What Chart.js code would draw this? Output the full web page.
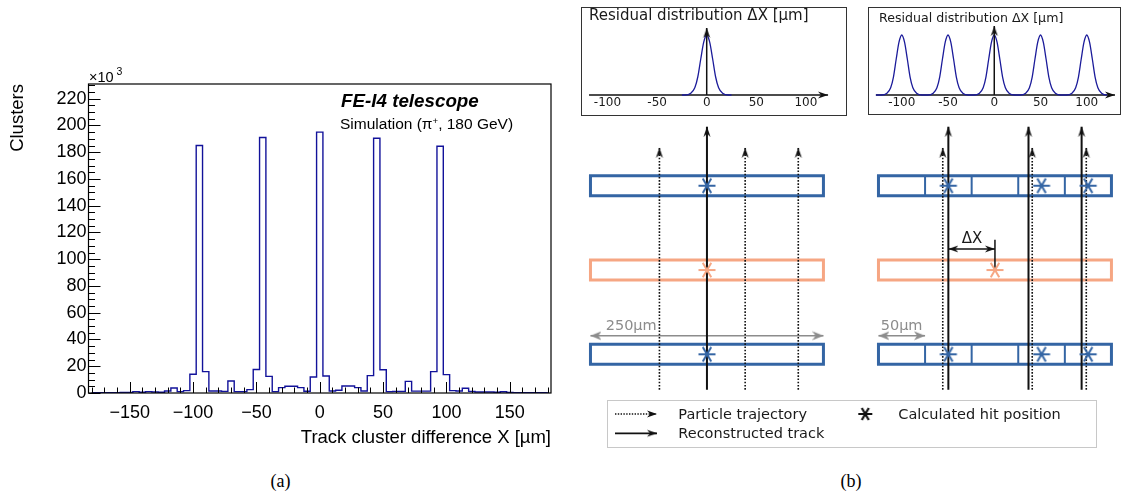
<!DOCTYPE html>
<html>
<head>
<meta charset="utf-8">
<script src="https://cdn.jsdelivr.net/npm/chart.js@4.4.1/dist/chart.umd.min.js"></script>
<style>
  html, body { margin: 0; padding: 0; background: #fff; }
  body { position: relative; width: 1123px; height: 496px; overflow: hidden; }
  canvas, .t, .frame { position: absolute; }
  .t { line-height: 1; white-space: nowrap; }
  .root { font-family: 'Liberation Sans', Arial, sans-serif; color: #000; }
  .dv { font-family: 'DejaVu Sans', sans-serif; color: #1a1a1a; }
  .cap { font-family: 'Liberation Serif', 'Times New Roman', serif; font-size: 18px; width: 40px; text-align: center; color: #000; }
  .frame { box-sizing: border-box; }
  sup { font-size: 0.62em; vertical-align: 0.5em; line-height: 0; }
</style>
</head>
<body>
<!-- (a) -->
<canvas id="hist" width="571" height="460" style="left:0;top:0"></canvas>
<div class="t root" style="left:89px;top:70.4px;font-size:14.5px">×10</div>
<div class="t root" style="left:116.5px;top:66px;font-size:10.5px">3</div>
<div class="t root" style="left:341px;top:91.5px;font-size:18.8px;font-weight:bold;font-style:italic">FE-I4 telescope</div>
<div class="t root" style="left:340px;top:116px;font-size:15.5px">Simulation (π<sup>+</sup>, 180 GeV)</div>
<div class="t cap" style="left:260.5px;top:472px">(a)</div>

<!-- (b) -->
<canvas id="insetL" width="266" height="109" style="left:581px;top:7px"></canvas>
<div class="frame" style="left:581px;top:7px;width:266px;height:109px;border:1.5px solid #333"></div>
<div class="t dv" style="left:589px;top:8.2px;font-size:15px">Residual distribution ΔX [µm]</div>

<canvas id="insetR" width="253" height="108" style="left:868px;top:7px"></canvas>
<div class="frame" style="left:868px;top:7px;width:253px;height:108px;border:1.5px solid #333"></div>
<div class="t dv" style="left:879px;top:11.8px;font-size:12.6px">Residual distribution ΔX [µm]</div>

<canvas id="sketchL" width="264" height="275" style="left:575px;top:120px"></canvas>
<canvas id="sketchR" width="264" height="275" style="left:863px;top:120px"></canvas>
<div class="t dv" style="left:605.7px;top:317.7px;font-size:14.5px;color:#8c8c8c">250µm</div>
<div class="t dv" style="left:880.7px;top:317.7px;font-size:14.5px;color:#8c8c8c">50µm</div>
<div class="t dv" style="left:961.7px;top:230.6px;font-size:15px">ΔX</div>

<div class="frame" style="left:607px;top:400px;width:490px;height:47.5px;border:1px solid #c8c8c8"></div>
<canvas id="legendKeys" width="490" height="47" style="left:607px;top:400px"></canvas>
<div class="t dv" style="left:678.3px;top:407px;font-size:14.5px">Particle trajectory</div>
<div class="t dv" style="left:678.3px;top:426px;font-size:14.5px">Reconstructed track</div>
<div class="t dv" style="left:898.3px;top:407px;font-size:14.5px">Calculated hit position</div>
<div class="t cap" style="left:831px;top:472px">(b)</div>

<script>
// ---------- (a) track cluster difference, 5 µm bins, clusters in 10^3
const binCenters = [
  -180, -175, -170, -165, -160, -155, -150, -145, -140, -135, -130, -125, -120,
  -115, -110, -105, -100, -95, -90, -85, -80, -75, -70, -65, -60, -55, -50,
  -45, -40, -35, -30, -25, -20, -15, -10, -5, 0, 5, 10, 15, 20, 25, 30,
  35, 40, 45, 50, 55, 60, 65, 70, 75, 80, 85, 90, 95, 100, 105, 110,
  115, 120, 125, 130, 135, 140, 145, 150, 155, 160, 165, 170, 175, 180
];
const clusters = [
  0.3, 0.3, 0.3, 0.3, 0.3, 0.4, 0.5, 1.0, 0.6, 1.0, 0.8, 0.6, 1.5,
  3.7, 1.0, 1.8, 14, 185, 16, 1.5, 1.5, 1.2, 9.0, 1.0, 1.0, 2.5, 17.6,
  191, 12.4, 1.0, 4.0, 5.0, 5.0, 4.0, 1.3, 12, 195, 12.7, 1.5, 2.0, 5.2, 5.2, 4.0,
  1.5, 13, 190.5, 17.4, 1.0, 1.2, 1.2, 8.7, 1.4, 1.4, 1.4, 16, 184.5, 13.7, 1.8, 1.5,
  3.5, 1.2, 0.8, 0.7, 0.8, 0.6, 0.9, 0.4, 0.3, 0.3, 0.3, 0.3, 0.3, 0.3
];
const histXTicks = [-150, -100, -50, 0, 50, 100, 150];
const histYTicks = [0, 20, 40, 60, 80, 100, 120, 140, 160, 180, 200, 220];

// ---------- (b) sketch, x in µm across the 250 µm wide sensors
const sensorEdges = [0, 250];
const finePixelEdges = [0, 50, 100, 150, 200, 250];
const planes = [0, 1, 2];            // lower telescope plane, DUT, upper telescope plane
const dutPlane = 1;
const trajectoriesL = [74, 166, 223];
const tracksL = [125];
const hitsL = [125];
const trajectoriesR = [69, 165, 223];
const tracksR = [75, 161, 218];
const hitsR = [75, 175, 225];
const dutHit = 125;
const pitchL = [0, 250];
const pitchR = [0, 50];

// residual sketches
const residualTicks = [-100, -50, 0, 50, 100];
const peakOffsets = [-22, -16, -12, -9, -6, -3, 0, 3, 6, 9, 12, 16, 22];
const peakShape = [0, 0.03, 0.12, 0.3, 0.6, 0.88, 1, 0.88, 0.6, 0.3, 0.12, 0.03, 0];
const peaksL = [0];
const peaksR = [-100, -50, 0, 50, 100];

const ROOT_FONT = "'Liberation Sans', Arial, sans-serif";
const DV_FONT = "'DejaVu Sans', sans-serif";
const HIST = '#12129a';
const NAVY = '#1b1b9a';
const BLUE = '#3465a4';
const ORANGE = '#f6a683';
const GREY = '#8c8c8c';
const INK = '#111';

// point style images
function head(color, len, half, notch) {
  const c = document.createElement('canvas');
  c.width = Math.ceil(half) * 2 + 2;
  c.height = Math.ceil(len) * 2;
  const g = c.getContext('2d');
  const cx = c.width / 2, tip = c.height / 2;
  g.fillStyle = color;
  g.beginPath();
  g.moveTo(cx, tip);
  g.lineTo(cx + half, tip + len);
  g.lineTo(cx, tip + len - notch);
  g.lineTo(cx - half, tip + len);
  g.closePath();
  g.fill();
  return c;
}
function star(color, r, w) {
  const c = document.createElement('canvas');
  c.width = c.height = Math.ceil(r) * 2 + 4;
  const g = c.getContext('2d');
  const m = c.width / 2;
  g.strokeStyle = color;
  g.lineWidth = w;
  g.beginPath();
  [0, 60, 120].forEach(a => {
    const dx = Math.cos(a * Math.PI / 180) * r, dy = Math.sin(a * Math.PI / 180) * r;
    g.moveTo(m - dx, m - dy);
    g.lineTo(m + dx, m + dy);
  });
  g.stroke();
  return c;
}
const headInk = head(INK, 10, 3.5, 3);
const headGrey = head(GREY, 11, 4.5, 3);
const starBlue = star(BLUE, 8.5, 2);
const starOrange = star(ORANGE, 8.5, 2);
const starInk = star(INK, 7, 2.2);

const minus = v => (v < 0 ? '\u2212' + Math.abs(v) : String(v));
const quiet = { legend: { display: false }, tooltip: { enabled: false } };

const rootAxes = {
  id: 'rootAxes',
  afterDatasetsDraw(chart) {
    const { ctx, chartArea: a, scales: { x, y } } = chart;
    ctx.save();
    ctx.strokeStyle = '#000';
    ctx.lineWidth = 1.2;
    ctx.strokeRect(a.left, a.top, a.right - a.left, a.bottom - a.top);
    ctx.lineWidth = 1;
    ctx.beginPath();
    for (let v = -180; v <= 180; v += 10) {
      const px = Math.round(x.getPixelForValue(v)) + 0.5;
      const len = v % 50 === 0 ? 11 : 5.5;
      ctx.moveTo(px, a.bottom);
      ctx.lineTo(px, a.bottom - len);
    }
    for (let v = 0; v <= 230; v += 5) {
      const py = Math.round(y.getPixelForValue(v)) + 0.5;
      const len = v % 20 === 0 ? 12 : 6.5;
      ctx.moveTo(a.left, py);
      ctx.lineTo(a.left + len, py);
    }
    ctx.stroke();
    ctx.restore();
  }
};

new Chart(document.getElementById('hist'), {
  type: 'line',
  data: {
    datasets: [{
      data: binCenters.map((x, i) => ({ x, y: clusters[i] })),
      stepped: 'middle',
      borderColor: HIST,
      borderWidth: 1.4,
      pointRadius: 0,
      fill: false
    }]
  },
  options: {
    responsive: false,
    animation: false,
    events: [],
    layout: { autoPadding: false, padding: { top: 84, right: 20, left: 0, bottom: 0 } },
    plugins: quiet,
    scales: {
      x: {
        type: 'linear',
        min: -182.5,
        max: 182.5,
        afterBuildTicks: s => { s.ticks = histXTicks.map(value => ({ value })); },
        afterFit: s => { s.height = 67; },
        grid: { display: false, drawTicks: false },
        border: { display: false },
        ticks: { autoSkip: false, maxRotation: 0, padding: 9, color: '#000', font: { family: ROOT_FONT, size: 18 }, callback: minus },
        title: { display: true, text: 'Track cluster difference X [µm]', align: 'end', color: '#000', font: { family: ROOT_FONT, size: 18.5 }, padding: { top: 0, bottom: 11 } }
      },
      y: {
        type: 'linear',
        min: 0,
        max: 231,
        afterBuildTicks: s => { s.ticks = histYTicks.map(value => ({ value })); },
        afterFit: s => { s.width = 88.5; },
        grid: { display: false, drawTicks: false },
        border: { display: false },
        ticks: { autoSkip: false, padding: 2, color: '#000', font: { family: ROOT_FONT, size: 18 } },
        title: { display: true, text: 'Clusters', align: 'end', color: '#000', font: { family: ROOT_FONT, size: 18.5 }, padding: { top: 6.4, bottom: 0 } }
      }
    }
  },
  plugins: [rootAxes]
});

// residual distribution insets
function residualInset(id, o) {
  const curve = [{ x: o.span[0], y: 0 }];
  o.centers.forEach(c => peakOffsets.forEach((d, i) => curve.push({ x: c + d, y: peakShape[i] })));
  curve.push({ x: o.span[1], y: 0 });
  new Chart(document.getElementById(id), {
    type: 'scatter',
    data: {
      datasets: [
        { data: [{ x: 0, y: 0 }, { x: 0, y: o.yTip }], showLine: true, borderColor: INK, borderWidth: 1.5, pointStyle: headInk, pointRadius: [0, 6], clip: false },
        { data: curve, showLine: true, borderColor: NAVY, borderWidth: 1.3, pointRadius: 0, cubicInterpolationMode: 'monotone', clip: false },
        { data: [{ x: o.axis[0], y: 0 }, { x: o.axis[1], y: 0 }], showLine: true, borderColor: INK, borderWidth: 1.5, pointStyle: headInk, pointRadius: [0, 6], pointRotation: 90, clip: false }
      ]
    },
    options: {
      responsive: false,
      animation: false,
      events: [],
      layout: { autoPadding: false, padding: 0 },
      plugins: quiet,
      scales: {
        x: {
          type: 'linear',
          min: o.x[0],
          max: o.x[1],
          afterBuildTicks: s => { s.ticks = residualTicks.map(value => ({ value })); },
          afterFit: s => { s.height = o.axisH; },
          grid: { display: false, drawTicks: false },
          border: { display: false },
          ticks: { autoSkip: false, maxRotation: 0, padding: 1, color: '#1a1a1a', font: { family: DV_FONT, size: 12 }, callback: v => String(v) }
        },
        y: { display: false, min: 0, max: o.yMax }
      }
    }
  });
}
residualInset('insetL', { centers: peaksL, span: [-25, 25], x: [-126.7, 141.4], axis: [-118.6, 122.3], yTip: 1.117, yMax: 1.467, axisH: 21 });
residualInset('insetR', { centers: peaksR, span: [-128, 121], x: [-136.5, 137], axis: [-127.9, 130.5], yTip: 1.15, yMax: 1.467, axisH: 20 });

// telescope sketches
const PLANE_HALF = 0.118, TRACK_BOTTOM = -0.42, TRACK_TOP = 2.70, TRAJ_TOP = 2.45;
const DIM_Y = 0.22, DX_Y = 1.25, DX_TOP = 1.36;

function sketch(id, o) {
  const ds = [];
  const seg = (pts, color, width, extra) => ds.push(Object.assign({
    data: pts, showLine: true, borderColor: color, borderWidth: width, pointRadius: 0, clip: false
  }, extra || {}));

  const hitPts = [];
  o.hits.forEach(x => [planes[0], planes[2]].forEach(p => hitPts.push({ x, y: p })));
  ds.push({ data: hitPts, pointStyle: starBlue, pointRadius: 8, showLine: false, clip: false });
  ds.push({ data: [{ x: dutHit, y: dutPlane }], pointStyle: starOrange, pointRadius: 8, showLine: false, clip: false });

  if (o.residual) {
    seg([{ x: o.tracks[0], y: DX_Y }, { x: dutHit, y: DX_Y }], INK, 1.5, { pointStyle: headInk, pointRadius: [6, 6], pointRotation: [-90, 90] });
    seg([{ x: dutHit, y: DX_TOP }, { x: dutHit, y: dutPlane }], INK, 1.5);
  }
  o.tracks.forEach(x => seg([{ x, y: TRACK_BOTTOM }, { x, y: TRACK_TOP }], INK, 2, { pointStyle: headInk, pointRadius: [0, 6] }));
  o.trajectories.forEach(x => seg([{ x, y: TRACK_BOTTOM }, { x, y: TRAJ_TOP }], INK, 1.6, { borderDash: [1.6, 1.6], pointStyle: headInk, pointRadius: [0, 6] }));

  seg([{ x: o.pitch[0], y: DIM_Y }, { x: o.pitch[1], y: DIM_Y }], GREY, 1.6, { pointStyle: headGrey, pointRadius: [6, 6], pointRotation: [-90, 90] });

  planes.forEach(p => {
    const color = p === dutPlane ? ORANGE : BLUE;
    const [a, b] = sensorEdges;
    seg([{ x: a, y: p - PLANE_HALF }, { x: b, y: p - PLANE_HALF }, { x: b, y: p + PLANE_HALF }, { x: a, y: p + PLANE_HALF }, { x: a, y: p - PLANE_HALF }],
      color, 3, { borderJoinStyle: 'miter', borderCapStyle: 'square' });
    if (o.fine && p !== dutPlane) {
      finePixelEdges.slice(1, -1).forEach(e => seg([{ x: e, y: p - PLANE_HALF }, { x: e, y: p + PLANE_HALF }], color, 2));
    }
  });

  new Chart(document.getElementById(id), {
    type: 'scatter',
    data: { datasets: ds },
    options: {
      responsive: false,
      animation: false,
      events: [],
      layout: { autoPadding: false, padding: 0 },
      plugins: quiet,
      scales: {
        x: { type: 'linear', display: false, min: -16.6, max: 266.7 },
        y: { type: 'linear', display: false, min: -0.483, max: 2.78 }
      }
    }
  });
}
sketch('sketchL', { trajectories: trajectoriesL, tracks: tracksL, hits: hitsL, pitch: pitchL, fine: false, residual: false });
sketch('sketchR', { trajectories: trajectoriesR, tracks: tracksR, hits: hitsR, pitch: pitchR, fine: true, residual: true });

// legend keys, in pixels of the legend box
new Chart(document.getElementById('legendKeys'), {
  type: 'scatter',
  data: {
    datasets: [
      { data: [{ x: 8, y: 14 }, { x: 50, y: 14 }], showLine: true, borderColor: INK, borderWidth: 1.4, borderDash: [1.4, 1.4], pointStyle: headInk, pointRadius: [0, 6], pointRotation: 90, clip: false },
      { data: [{ x: 8, y: 33.3 }, { x: 50, y: 33.3 }], showLine: true, borderColor: INK, borderWidth: 1.8, pointStyle: headInk, pointRadius: [0, 6], pointRotation: 90, clip: false },
      { data: [{ x: 258.3, y: 14 }], pointStyle: starInk, pointRadius: 7, showLine: false, clip: false }
    ]
  },
  options: {
    responsive: false,
    animation: false,
    events: [],
    layout: { autoPadding: false, padding: 0 },
    plugins: quiet,
    scales: {
      x: { type: 'linear', display: false, min: 0, max: 490 },
      y: { type: 'linear', display: false, min: 0, max: 47, reverse: true }
    }
  }
});
</script>
</body>
</html>
